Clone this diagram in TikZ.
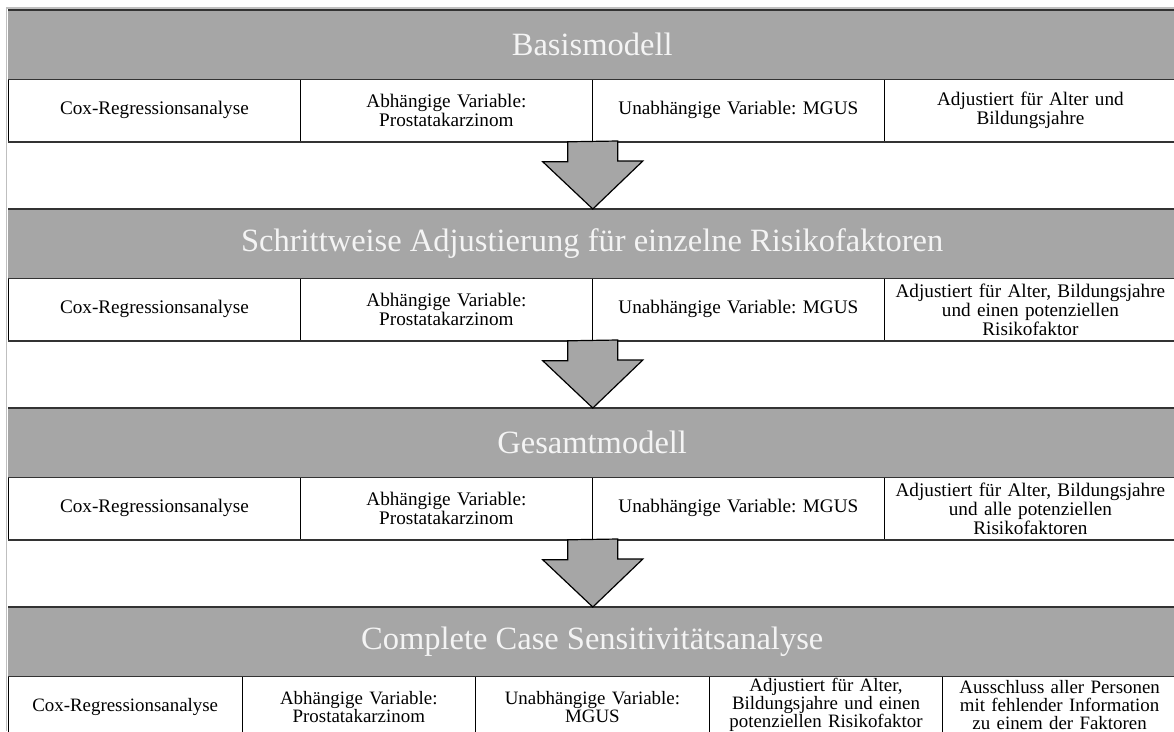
\documentclass[tikz,border=0pt]{standalone}
\usepackage{fontspec}
\setmainfont{Liberation Serif}
\usetikzlibrary{calc}
\definecolor{bandgray}{HTML}{A6A6A6}
\definecolor{titlecol}{HTML}{F4F4F4}
\definecolor{framegray}{HTML}{BFBFBF}
\definecolor{bandline}{HTML}{333333}
\frenchspacing
\begin{document}
\frenchspacing
\begin{tikzpicture}[x=1pt,y=-1pt,
  band/.style={draw=none, fill=bandgray, minimum width=1168pt, minimum height=69pt,
    inner sep=0pt, anchor=north west, text=titlecol, font=\fontsize{32.5}{36}\selectfont},
  cellbox/.style={draw=black, line width=0.8pt, fill=white, minimum height=62pt,
    inner sep=0pt, anchor=north west, align=center, font=\fontsize{19.2}{19}\selectfont},
  cellfour/.style={cellbox, minimum width=292pt, text width=286pt},
  cellfive/.style={cellbox, minimum width=233.6pt, text width=228pt, font=\fontsize{18.9}{17.8}\selectfont},
  edgeline/.style={draw=bandline, line width=1.6pt},
  blockarrow/.style={fill=bandgray, draw=black, line width=1.2pt, line join=miter}]
\useasboundingbox (0,0) rectangle (1174,731);
\clip (0,0) rectangle (1174,731);
\fill[white] (0,0) rectangle (1174,731);
% outer light frame
\draw[framegray, line width=1.5pt] (6.5,731) -- (6.5,8) -- (1174,8);

% ---------- band 1
\node[band] (b1) at (8,10) {Basismodell};
\node[cellfour] (r1c1) at (8,79) {Cox-Regressionsanalyse};
\node[cellfour] (r1c2) at (300,79) {Abhängige Variable:\\Prostatakarzinom};
\node[cellfour] (r1c3) at (592,79) {Unabhängige Variable: MGUS};
\node[cellfour] (r1c4) at (884,79) {Adjustiert für Alter und\\Bildungsjahre};

% ---------- band 2
\node[band] (b2) at (8,209) {Schrittweise Adjustierung für einzelne Risikofaktoren};
\node[cellfour] (r2c1) at (8,278) {Cox-Regressionsanalyse};
\node[cellfour] (r2c2) at (300,278) {Abhängige Variable:\\Prostatakarzinom};
\node[cellfour] (r2c3) at (592,278) {Unabhängige Variable: MGUS};
\node[cellfour] (r2c4) at (884,278) {Adjustiert für Alter, Bildungsjahre\\und einen potenziellen\\Risikofaktor};

% ---------- band 3
\node[band] (b3) at (8,408) {Gesamtmodell};
\node[cellfour] (r3c1) at (8,477) {Cox-Regressionsanalyse};
\node[cellfour] (r3c2) at (300,477) {Abhängige Variable:\\Prostatakarzinom};
\node[cellfour] (r3c3) at (592,477) {Unabhängige Variable: MGUS};
\node[cellfour] (r3c4) at (884,477) {Adjustiert für Alter, Bildungsjahre\\und alle potenziellen\\Risikofaktoren};

% ---------- band 4
\node[band] (b4) at (8,607) {Complete Case Sensitivitätsanalyse};
\node[cellfive] (r4c1) at (8,676) {Cox-Regressionsanalyse};
\node[cellfive] (r4c2) at (241.6,676) {Abhängige Variable:\\Prostatakarzinom};
\node[cellfive] (r4c3) at (475.2,676) {Unabhängige Variable:\\MGUS};
\node[cellfive] (r4c4) at (708.8,676) {\parbox{228pt}{\centering Adjustiert für Alter,\\Bildungsjahre und einen\\potenziellen Risikofaktor\par\vspace{5pt}}};
\node[cellfive] (r4c5) at (942.4,676) {\parbox{228pt}{\centering Ausschluss aller Personen\\mit fehlender Information\\zu einem der Faktoren\par\vspace{5pt}}};

% band edges
\foreach \b in {b1,b2,b3,b4}{
  \draw[edgeline] (\b.north west) -- (\b.north east);
  \draw[edgeline] (\b.south west) -- (\b.south east);
}
% row bottom edges
\foreach \r in {r1,r2,r3}{
  \draw[edgeline] (\r c1.south west) -- (\r c4.south east);
}

% block arrows
\draw[blockarrow] ($(r1c2.south east)+(-25,0)$) -- ++(0,20) -- ++(-25,0)
  -- (r1c2.south east |- b2.north) -- ++(50,-48) -- ++(-25,0) -- ++(0,-20) -- cycle;
\draw[blockarrow] ($(r2c2.south east)+(-25,0)$) -- ++(0,20) -- ++(-25,0)
  -- (r2c2.south east |- b3.north) -- ++(50,-48) -- ++(-25,0) -- ++(0,-20) -- cycle;
\draw[blockarrow] ($(r3c2.south east)+(-25,0)$) -- ++(0,20) -- ++(-25,0)
  -- (r3c2.south east |- b4.north) -- ++(50,-48) -- ++(-25,0) -- ++(0,-20) -- cycle;
\end{tikzpicture}
\end{document}
